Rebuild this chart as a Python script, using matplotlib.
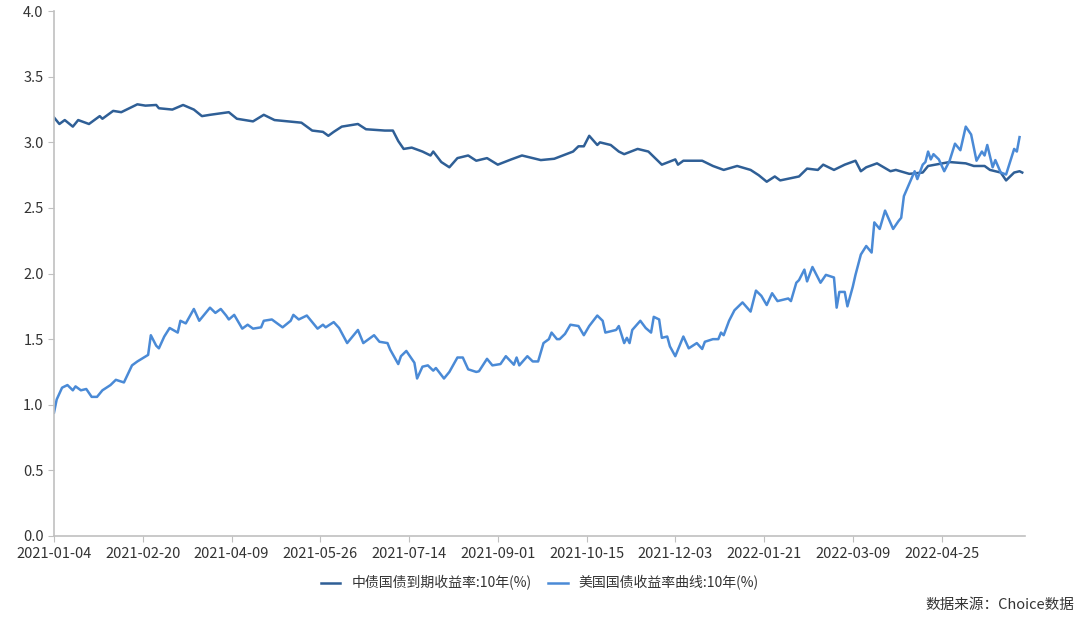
import numpy as np
import matplotlib.pyplot as plt

plt.rcParams['font.family'] = ['Noto Sans CJK SC', 'DejaVu Sans']

# x axis is trading-day offset from 2021-01-04
tick_days = [0, 33, 66, 99, 132, 165, 198, 231, 264, 297, 330]
tick_labels = ['2021-01-04', '2021-02-20', '2021-04-09', '2021-05-26', '2021-07-14',
               '2021-09-01', '2021-10-15', '2021-12-03', '2022-01-21', '2022-03-09',
               '2022-04-25']

cn_days = [0, 2, 4, 7, 9, 13, 17, 18, 22, 25, 31, 34, 38, 39, 44, 48, 52, 55, 58, 65,
           68, 74, 78, 82, 87, 92, 96, 100, 102, 104, 107, 110, 113, 116, 123, 126, 128,
           130, 133, 137, 140, 141, 144, 147, 150, 154, 157, 161, 165, 170, 174, 181, 186,
           193, 195, 197, 199, 202, 203, 207, 210, 212, 217, 221, 226, 231, 232, 234, 241,
           245, 249, 254, 259, 262, 265, 268, 270, 277, 280, 284, 286, 290, 294, 298, 300,
           302, 306, 311, 313, 318, 323, 325, 333, 339, 342, 346, 348, 352, 354, 357, 359,
           360]
cn_vals = [3.19, 3.14, 3.17, 3.12, 3.17, 3.14, 3.20, 3.18, 3.24, 3.23, 3.29, 3.28, 3.285,
           3.26, 3.25, 3.285, 3.25, 3.20, 3.21, 3.23, 3.18, 3.16, 3.21, 3.17, 3.16, 3.15,
           3.09, 3.08, 3.05, 3.08, 3.12, 3.13, 3.14, 3.10, 3.09, 3.09, 3.01, 2.95, 2.96,
           2.93, 2.90, 2.93, 2.85, 2.81, 2.88, 2.90, 2.86, 2.88, 2.83, 2.87, 2.90, 2.865,
           2.875, 2.93, 2.97, 2.97, 3.05, 2.98, 3.00, 2.98, 2.93, 2.91, 2.95, 2.93, 2.83,
           2.87, 2.83, 2.86, 2.86, 2.82, 2.79, 2.82, 2.79, 2.75, 2.70, 2.74, 2.71, 2.74,
           2.80, 2.79, 2.83, 2.79, 2.83, 2.86, 2.78, 2.81, 2.84, 2.78, 2.79, 2.76, 2.77,
           2.82, 2.85, 2.84, 2.82, 2.82, 2.79, 2.77, 2.71, 2.77, 2.78, 2.77]

us_days = [0, 1, 3, 5, 7, 8, 10, 12, 14, 16, 18, 21, 23, 26, 29, 31, 35, 36, 38, 39, 41,
           43, 46, 47, 49, 52, 54, 58, 60, 62, 64, 65, 67, 70, 72, 74, 77, 78, 81, 85, 88,
           89, 91, 94, 96, 98, 100, 101, 104, 106, 109, 111, 113, 115, 117, 119, 121, 124,
           125, 128, 129, 131, 134, 135, 137, 139, 141, 142, 145, 147, 150, 152, 154, 157,
           158, 161, 163, 166, 168, 171, 172, 173, 176, 178, 180, 182, 184, 185, 187, 188,
           190, 192, 195, 197, 199, 202, 204, 205, 209, 210, 212, 213, 214, 215, 218, 220,
           222, 223, 225, 226, 228, 229, 231, 234, 236, 239, 241, 242, 245, 247, 248, 249,
           251, 253, 256, 259, 261, 263, 265, 267, 269, 273, 274, 276, 277, 279, 280, 282,
           285, 287, 290, 291, 292, 294, 295, 297, 298, 300, 302, 304, 305, 307, 309, 312,
           314, 315, 316, 320, 321, 323, 324, 325, 326, 327, 329, 331, 333, 335, 337, 339,
           341, 343, 345, 346, 347, 349, 350, 352, 354, 355, 357, 358, 359]
us_vals = [0.94, 1.04, 1.13, 1.15, 1.11, 1.14, 1.11, 1.12, 1.06, 1.06, 1.11, 1.15, 1.19,
           1.17, 1.30, 1.33, 1.38, 1.53, 1.45, 1.43, 1.52, 1.585, 1.55, 1.64, 1.62, 1.73,
           1.64, 1.74, 1.70, 1.73, 1.68, 1.65, 1.685, 1.58, 1.61, 1.58, 1.59, 1.64, 1.65,
           1.59, 1.64, 1.685, 1.65, 1.68, 1.63, 1.58, 1.61, 1.59, 1.63, 1.585, 1.47, 1.52,
           1.57, 1.47, 1.50, 1.53, 1.48, 1.47, 1.42, 1.31, 1.37, 1.41, 1.32, 1.20, 1.29,
           1.30, 1.26, 1.28, 1.20, 1.25, 1.36, 1.36, 1.27, 1.25, 1.255, 1.35, 1.30, 1.31,
           1.37, 1.305, 1.36, 1.30, 1.37, 1.33, 1.33, 1.47, 1.50, 1.55, 1.50, 1.50, 1.54,
           1.61, 1.60, 1.53, 1.60, 1.68, 1.64, 1.55, 1.57, 1.60, 1.47, 1.51, 1.47, 1.57,
           1.64, 1.585, 1.55, 1.67, 1.65, 1.51, 1.52, 1.445, 1.37, 1.52, 1.43, 1.47, 1.425,
           1.48, 1.50, 1.50, 1.55, 1.53, 1.64, 1.72, 1.78, 1.71, 1.87, 1.83, 1.76, 1.85,
           1.79, 1.81, 1.79, 1.93, 1.95, 2.03, 1.94, 2.05, 1.93, 1.99, 1.97, 1.74, 1.86,
           1.86, 1.75, 1.90, 1.99, 2.145, 2.21, 2.16, 2.39, 2.34, 2.48, 2.34, 2.40, 2.425,
           2.59, 2.78, 2.72, 2.83, 2.85, 2.93, 2.87, 2.91, 2.87, 2.78, 2.86, 2.99, 2.94,
           3.12, 3.06, 2.86, 2.93, 2.90, 2.98, 2.81, 2.865, 2.77, 2.755, 2.82, 2.95, 2.93,
           3.04]

fig = plt.figure(figsize=(10.8, 6.21), dpi=100)
ax = fig.add_axes([0.05, 0.137, 0.899, 0.845])

ax.plot(cn_days, cn_vals, color='#2f5f96', lw=1.8, label='中债国债到期收益率:10年(%)')
ax.plot(us_days, us_vals, color='#4a8ad6', lw=1.8, label='美国国债收益率曲线:10年(%)')

ax.set_xlim(0, 361)
ax.set_ylim(0, 4.0)
ax.set_yticks(np.arange(0, 4.01, 0.5))
ax.set_yticklabels([f'{v:.1f}' for v in np.arange(0, 4.01, 0.5)])
ax.set_xticks(tick_days)
ax.set_xticklabels(tick_labels)

for s in ['top', 'right']:
    ax.spines[s].set_visible(False)
for s in ['left', 'bottom']:
    ax.spines[s].set_color('#c0c0c0')
    ax.spines[s].set_linewidth(1.2)
ax.tick_params(axis='both', colors='#c0c0c0', length=4, labelsize=10.5,
               labelcolor='#333333')
ax.tick_params(axis='x', pad=4)

fig.legend(loc='center', bbox_to_anchor=(0.5, 0.061), ncol=2, frameon=False,
           fontsize=10, handlelength=1.4, columnspacing=1.2, labelcolor='#333333')
fig.text(0.995, 0.025, '数据来源：Choice数据', ha='right', va='center',
         fontsize=10.5, color='#333333')

fig.savefig('out.png', dpi=100)
